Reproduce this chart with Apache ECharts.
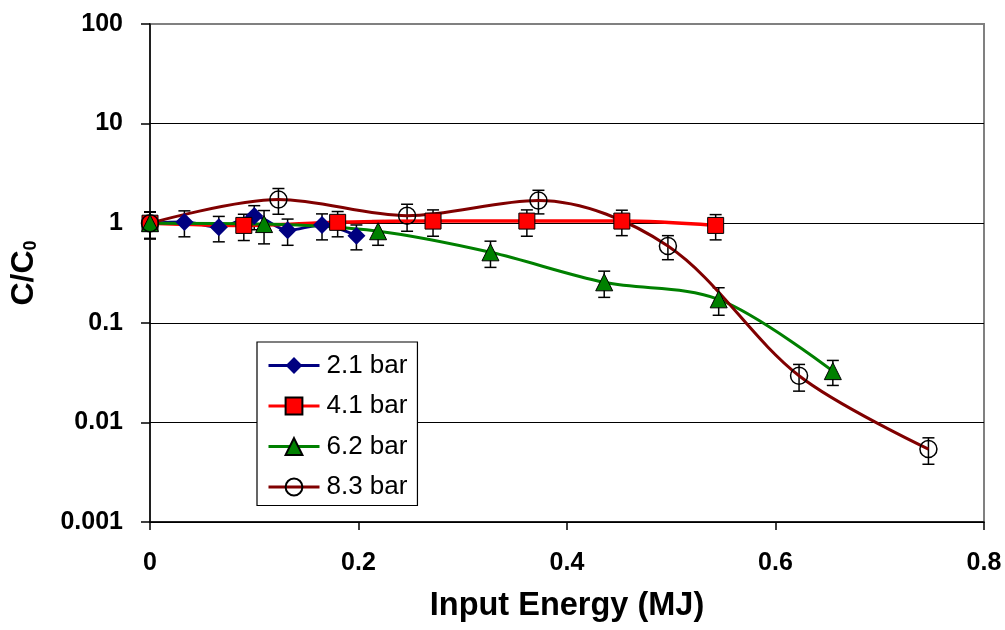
<!DOCTYPE html>
<html>
<head>
<meta charset="utf-8">
<script src="https://cdn.jsdelivr.net/npm/echarts@6/dist/echarts.min.js"></script>
<style>
  html, body { margin: 0; padding: 0; background: #fff; }
  #chart { width: 1005px; height: 630px; }
</style>
</head>
<body>
<div id="chart"></div>
<script>
// Relative concentration C/C0 against input energy, for four pressures
const seriesNames = ['2.1 bar', '4.1 bar', '6.2 bar', '8.3 bar'];

const energy21 = [0, 0.033, 0.066, 0.100, 0.132, 0.165, 0.198];
const ratio21  = [1.0, 1.03, 0.91, 1.18, 0.85, 0.96, 0.75];
const err21    = [0.30, 0.30, 0.26, 0.32, 0.25, 0.28, 0.21];

const energy41 = [0, 0.090, 0.180, 0.2715, 0.3615, 0.4526, 0.5426];
const ratio41  = [1.0, 0.95, 1.02, 1.05, 1.05, 1.05, 0.95];
const err41    = [0.30, 0.28, 0.29, 0.31, 0.31, 0.30, 0.27];

const energy62 = [0, 0.1094, 0.2188, 0.3266, 0.4357, 0.5455, 0.655];
const ratio62  = [1.0, 0.98, 0.83, 0.51, 0.255, 0.172, 0.0327];
const err62    = [0.30, 0.36, 0.23, 0.15, 0.075, 0.053, 0.0092];

const energy83 = [0, 0.1232, 0.2466, 0.3726, 0.4968, 0.6226, 0.7467];
const ratio83  = [1.0, 1.73, 1.19, 1.69, 0.59, 0.0294, 0.0054];
const err83    = [0.30, 0.50, 0.36, 0.45, 0.16, 0.0088, 0.0016];

const xTickLabels = ['0', '0.2', '0.4', '0.6', '0.8'];
const yTickLabels = ['0.001', '0.01', '0.1', '1', '10', '100'];

const FONT = 'Arial, "Liberation Sans", sans-serif';

function pairs(xs, ys) { return xs.map((x, i) => [x, ys[i]]); }
function triples(xs, ys, es) { return xs.map((x, i) => [x, ys[i], es[i]]); }

// Vertical error bar with caps, placed through the axis scales
function renderErrorBar(params, api) {
  const x = api.value(0), y = api.value(1), e = api.value(2);
  const hi = api.coord([x, y + e]);
  const lo = api.coord([x, Math.max(y - e, 1e-6)]);
  const cap = 6;
  const style = { stroke: '#000', lineWidth: 1.5 };
  return {
    type: 'group',
    children: [
      { type: 'line', shape: { x1: hi[0], y1: hi[1], x2: lo[0], y2: lo[1] }, style },
      { type: 'line', shape: { x1: hi[0] - cap, y1: hi[1], x2: hi[0] + cap, y2: hi[1] }, style },
      { type: 'line', shape: { x1: lo[0] - cap, y1: lo[1], x2: lo[0] + cap, y2: lo[1] }, style }
    ]
  };
}

function errorSeries(xs, ys, es) {
  return {
    type: 'custom',
    renderItem: renderErrorBar,
    data: triples(xs, ys, es),
    encode: { x: 0, y: 1 },
    z: 1,
    silent: true
  };
}

function lineSeries(name, xs, ys, color, width, symbol, size, itemStyle) {
  return {
    name,
    type: 'line',
    data: pairs(xs, ys),
    smooth: 0.33,
    symbol,
    symbolSize: size,
    showAllSymbol: true,
    lineStyle: { color, width },
    itemStyle,
    z: 3
  };
}

const chart = echarts.init(document.getElementById('chart'), null, { renderer: 'canvas' });

chart.setOption({
  animation: false,
  backgroundColor: '#fff',
  textStyle: { fontFamily: FONT },
  grid: {
    left: 148, right: 21, top: 24, bottom: 108,
    show: true, borderColor: '#808080', borderWidth: 2, backgroundColor: 'transparent'
  },
  legend: {
    data: seriesNames,
    orient: 'vertical',
    left: 257, top: 342,
    padding: [8, 10, 3, 10],
    itemWidth: 51, itemHeight: 21, itemGap: 9.5,
    borderColor: '#000', borderWidth: 1.2, backgroundColor: '#fff',
    lineStyle: { width: 3 },
    textStyle: { fontFamily: FONT, fontSize: 26, color: '#000', lineHeight: 31, padding: [0, 0, 0, 2] }
  },
  xAxis: {
    type: 'value', min: 0, max: 0.8, interval: 0.2,
    name: 'Input Energy (MJ)', nameLocation: 'middle', nameGap: 68,
    nameTextStyle: { fontFamily: FONT, fontSize: 32.5, fontWeight: 'bold', color: '#000' },
    axisLine: { show: true, lineStyle: { color: '#000', width: 1.5 } },
    axisTick: { show: true, inside: false, length: 8, lineStyle: { color: '#000', width: 1.5 } },
    axisLabel: {
      margin: 29, fontFamily: FONT, fontSize: 25, fontWeight: 'bold', color: '#000',
      formatter: (v, i) => xTickLabels[i]
    },
    splitLine: { show: false }
  },
  yAxis: {
    type: 'log', logBase: 10, min: 0.001, max: 100,
    name: 'C/C{s|0}', nameLocation: 'middle', nameGap: 110, nameRotate: 90,
    nameTextStyle: {
      fontFamily: FONT, fontSize: 32, fontWeight: 'bold', color: '#000',
      rich: { s: { fontFamily: FONT, fontSize: 18, fontWeight: 'bold', color: '#000', verticalAlign: 'bottom', lineHeight: 12 } }
    },
    axisLine: { show: true, lineStyle: { color: '#000', width: 1.5 } },
    axisTick: { show: true, inside: false, length: 9, lineStyle: { color: '#000', width: 1.5 } },
    axisLabel: {
      margin: 27, fontFamily: FONT, fontSize: 25, fontWeight: 'bold', color: '#000',
      formatter: (v, i) => yTickLabels[i]
    },
    minorTick: { show: false },
    splitLine: { show: true, showMaxLine: false, lineStyle: { color: '#000', width: 1.2 } }
  },
  series: [
    errorSeries(energy21, ratio21, err21),
    errorSeries(energy41, ratio41, err41),
    errorSeries(energy62, ratio62, err62),
    errorSeries(energy83, ratio83, err83),
    lineSeries(seriesNames[0], energy21, ratio21, '#000080', 3, 'diamond', 18,
      { color: '#000080', borderColor: '#000080', borderWidth: 0 }),
    lineSeries(seriesNames[1], energy41, ratio41, '#FF0000', 3.5, 'rect', 16,
      { color: '#FF0000', borderColor: '#000', borderWidth: 1 }),
    lineSeries(seriesNames[2], energy62, ratio62, '#008000', 3, 'triangle', 17,
      { color: '#008000', borderColor: '#000', borderWidth: 1 }),
    lineSeries(seriesNames[3], energy83, ratio83, '#800000', 3, 'circle', 17,
      { color: 'rgba(255,255,255,0)', borderColor: '#000', borderWidth: 1.5 })
  ]
});
</script>
</body>
</html>
